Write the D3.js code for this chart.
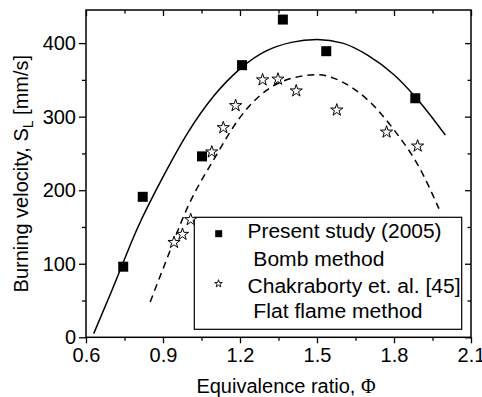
<!DOCTYPE html>
<html>
<head>
<meta charset="utf-8">
<script src="https://cdn.jsdelivr.net/npm/d3@7"></script>
<style>
  html, body { margin: 0; padding: 0; background: #fff; }
  svg { display: block; font-family: "Liberation Sans", Arial, Helvetica, sans-serif; }
</style>
</head>
<body>
<svg id="chart" width="482" height="397"></svg>
<script>
// ---- data ----
const xTickValues = [0.6, 0.9, 1.2, 1.5, 1.8, 2.1];
const xMinorValues = [0.75, 1.05, 1.35, 1.65, 1.95];
const yTickValues = [0, 100, 200, 300, 400];
const yMinorValues = [50, 150, 250, 350];

// Present study (2005), bomb method
const presentPhi = [0.745, 0.821, 1.052, 1.208, 1.367, 1.536, 1.883];
const presentSL  = [96, 191, 246, 370, 432, 389, 325];

// Chakraborty et. al. [45], flat flame method
const chakPhi = [0.943, 0.976, 1.008, 1.090, 1.135, 1.183, 1.288, 1.348, 1.419, 1.577, 1.771, 1.892];
const chakSL  = [129, 140, 160, 252, 285, 315, 350, 351, 335, 309, 279, 260];

// fitted curves
const solidFitPhi = [0.63, 0.7, 0.8, 0.9, 1.0, 1.1, 1.2, 1.3, 1.4, 1.5, 1.6, 1.7, 1.8, 1.9, 2.0];
const solidFitSL  = [5, 63, 148, 218, 280, 329, 365, 389, 401, 405, 400, 383, 357, 320, 275];
const dashFitPhi = [0.85, 0.9, 1.0, 1.1, 1.2, 1.3, 1.4, 1.5, 1.6, 1.7, 1.8, 1.9, 1.975];
const dashFitSL  = [48, 93, 180, 243, 299, 335, 352, 357, 347, 322, 282, 230, 175];

const legendLabels = ["Present study (2005)", " Bomb method", "Chakraborty et. al. [45]", " Flat flame method"];

// ---- layout ----
const L = 86, R = 471, T = 10, B = 337.3;
const svg = d3.select("#chart");
const x = d3.scaleLinear().domain([0.6, 2.1]).range([L, R]);
const y = d3.scaleLinear().domain([0, 445]).range([B, T]);
const FS = 20;

// fit lines
const line = d3.line().x(d => x(d[0])).y(d => y(d[1])).curve(d3.curveMonotoneX);
svg.append("path")
  .attr("d", line(d3.zip(solidFitPhi, solidFitSL)))
  .attr("fill", "none").attr("stroke", "#000").attr("stroke-width", 1.5);
svg.append("path")
  .attr("d", line(d3.zip(dashFitPhi, dashFitSL)))
  .attr("fill", "none").attr("stroke", "#000").attr("stroke-width", 1.5)
  .attr("stroke-dasharray", "7,5");

// axes
function styleAxis(g) {
  g.select(".domain").remove();
  g.selectAll("line").attr("stroke", "#000").attr("stroke-width", 1.3);
  g.selectAll("text").attr("fill", "#000").style("font-size", FS + "px")
    .style("font-family", '"Liberation Sans", Arial, sans-serif');
}
// bottom (outward)
svg.append("g").attr("transform", `translate(0,${B})`)
  .call(d3.axisBottom(x).tickValues(xTickValues).tickSize(6).tickPadding(5).tickFormat(d3.format(".1f")))
  .call(styleAxis);
svg.append("g").attr("transform", `translate(0,${B})`)
  .call(d3.axisBottom(x).tickValues(xMinorValues).tickSize(3.5).tickFormat(""))
  .call(styleAxis);
// top (inward)
svg.append("g").attr("transform", `translate(0,${T})`)
  .call(d3.axisBottom(x).tickValues(xTickValues).tickSize(6).tickFormat(""))
  .call(styleAxis);
svg.append("g").attr("transform", `translate(0,${T})`)
  .call(d3.axisBottom(x).tickValues(xMinorValues).tickSize(3.5).tickFormat(""))
  .call(styleAxis);
// left (outward)
svg.append("g").attr("transform", `translate(${L},0)`)
  .call(d3.axisLeft(y).tickValues(yTickValues).tickSize(7).tickPadding(3).tickFormat(d3.format("d")))
  .call(styleAxis);
svg.append("g").attr("transform", `translate(${L},0)`)
  .call(d3.axisLeft(y).tickValues(yMinorValues).tickSize(4).tickFormat(""))
  .call(styleAxis);
// right (inward)
svg.append("g").attr("transform", `translate(${R},0)`)
  .call(d3.axisRight(y).tickValues(yTickValues).tickSize(-6).tickFormat(""))
  .call(styleAxis);
svg.append("g").attr("transform", `translate(${R},0)`)
  .call(d3.axisRight(y).tickValues(yMinorValues).tickSize(-3.5).tickFormat(""))
  .call(styleAxis);

// frame
svg.append("rect").attr("x", L).attr("y", T).attr("width", R - L).attr("height", B - T)
  .attr("fill", "none").attr("stroke", "#000").attr("stroke-width", 1.5);

// legend box (under the markers)
const lg = svg.append("g");
lg.append("rect").attr("x", 194.3).attr("y", 217.3).attr("width", 267.4).attr("height", 112)
  .attr("fill", "#fff").attr("stroke", "#000").attr("stroke-width", 1.2);

// markers
const square = d3.symbol().type(d3.symbolSquare);
const star = d3.symbol().type(d3.symbolStar);
svg.append("g").selectAll("path").data(d3.zip(chakPhi, chakSL)).join("path")
  .attr("transform", d => `translate(${x(d[0])},${y(d[1])})`)
  .attr("d", star.size(46)())
  .attr("fill", "#fff").attr("stroke", "#000").attr("stroke-width", 1);
svg.append("g").selectAll("path").data(d3.zip(presentPhi, presentSL)).join("path")
  .attr("transform", d => `translate(${x(d[0])},${y(d[1])})`)
  .attr("d", square.size(100)())
  .attr("fill", "#000");

// legend content
lg.append("path").attr("transform", "translate(218.7,233.7)").attr("d", square.size(49)()).attr("fill", "#000");
lg.append("path").attr("transform", "translate(218.5,283.7)").attr("d", star.size(18)())
  .attr("fill", "#fff").attr("stroke", "#000").attr("stroke-width", 0.9);
const legendPos = [[247.5, 238.3, 194], [247.5, 266.3, 137], [247.5, 292.7, 213], [247.5, 317.7, 175]];
legendLabels.forEach((t, i) => {
  lg.append("text").attr("x", legendPos[i][0]).attr("y", legendPos[i][1])
    .attr("xml:space", "preserve")
    .attr("textLength", legendPos[i][2]).attr("lengthAdjust", "spacingAndGlyphs")
    .style("font-size", FS + "px").attr("fill", "#000").text(t);
});

// axis titles
svg.append("text").attr("x", 286).attr("y", 393).attr("text-anchor", "middle")
  .style("font-size", FS + "px")
  .call(t => {
    t.append("tspan").text("Equivalence ratio, ");
    t.append("tspan").style("font-family", '"Liberation Serif", "Times New Roman", serif').text("Φ");
  });
svg.append("text").attr("transform", `translate(28,${(T + B) / 2}) rotate(-90)`)
  .attr("text-anchor", "middle").style("font-size", FS + "px")
  .call(t => {
    t.append("tspan").text("Burning velocity, S");
    t.append("tspan").attr("dy", 5).style("font-size", "14px").text("L");
    t.append("tspan").attr("dy", -5).text(" [mm/s]");
  });
</script>
</body>
</html>
